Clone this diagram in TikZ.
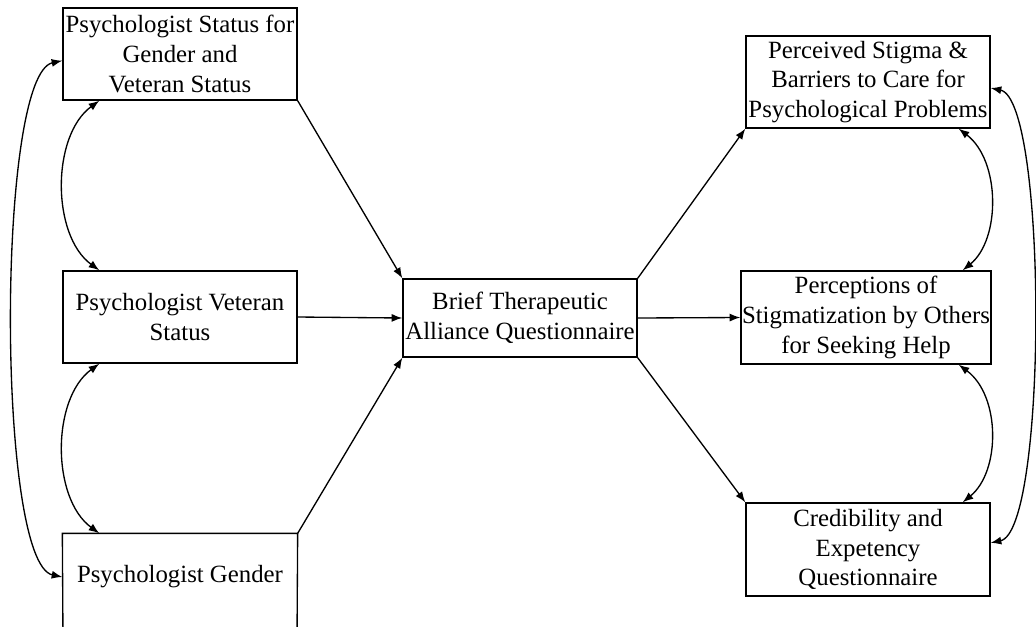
\documentclass[tikz,border=0pt]{standalone}
\usepackage{fontspec}
\setmainfont{Liberation Serif}
\usetikzlibrary{arrows.meta}
\begin{document}
\begin{tikzpicture}[x=0.75pt,y=-0.75pt,
  box/.style={draw, line width=1pt, inner sep=0pt, align=center,
    font=\fontsize{18.6pt}{22.2pt}\selectfont},
  arr/.style={-{Latex[length=8pt,width=6pt]}, line width=1pt},
  dbl/.style={{Latex[length=8pt,width=6pt]}-{Latex[length=8pt,width=6pt]}, line width=1pt}]
\path[use as bounding box] (0,0) rectangle (1036,626);
% left column
\node[box, minimum width=175.5pt, minimum height=69pt] (A) at (180,54)
  {Psychologist Status for\\Gender and\\Veteran Status};
\node[box, minimum width=175.5pt, minimum height=69pt] (B) at (180,317)
  {Psychologist Veteran\\Status};
\node[box, draw=none, minimum width=175.5pt, minimum height=64.5pt] (C) at (180,577)
  {Psychologist Gender};
\draw[line width=1pt] (63,640) -- (C.north west) -- (C.north east) -- (297,640);
% centre
\node[box, minimum width=175.5pt, minimum height=58.5pt] (D) at (520,318)
  {Brief Therapeutic\\Alliance Questionnaire};
% right column
\node[box, minimum width=183pt, minimum height=69pt] (E) at (868,82)
  {Perceived Stigma \&\\Barriers to Care for\\Psychological Problems};
\node[box, minimum width=187.5pt, minimum height=69.75pt] (F) at (866,317.5)
  {Perceptions of\\Stigmatization by Others\\for Seeking Help};
\node[box, minimum width=183pt, minimum height=69.75pt] (G) at (868,549.5)
  {Credibility and\\Expetency\\Questionnaire};
% straight paths
\draw[arr] (A.south east) -- (D.north west);
\draw[arr] (B.east) -- (D.west);
\draw[arr] (C.north east) -- (D.south west);
\draw[arr] (D.north east) -- (E.south west);
\draw[arr] (D.east) -- (F.west);
\draw[arr] (D.south east) -- (G.north west);
% left covariances
\draw[dbl] ([xshift=27.75pt]A.south west) .. controls +(-48,35) and +(-48,-35) .. ([xshift=27.75pt]B.north west);
\draw[dbl] ([xshift=27.75pt]B.south west) .. controls +(-48,35) and +(-48,-35) .. ([xshift=27.75pt]C.north west);
\draw[dbl] ([yshift=-5pt]A.west) .. controls +(-66,14) and +(-66,-14) .. (C.west);
% right covariances
\draw[dbl] ([xshift=-24pt]E.south east) .. controls +(42,32) and +(38,-31) .. ([xshift=-21.75pt]F.north east);
\draw[dbl] ([xshift=-24.75pt]F.south east) .. controls +(42,31) and +(38,-31) .. ([xshift=-21pt]G.north east);
\draw[dbl] ([yshift=-4.5pt]E.east) .. controls +(57,12) and +(57,-12) .. ([yshift=5pt]G.east);
\end{tikzpicture}
\end{document}
